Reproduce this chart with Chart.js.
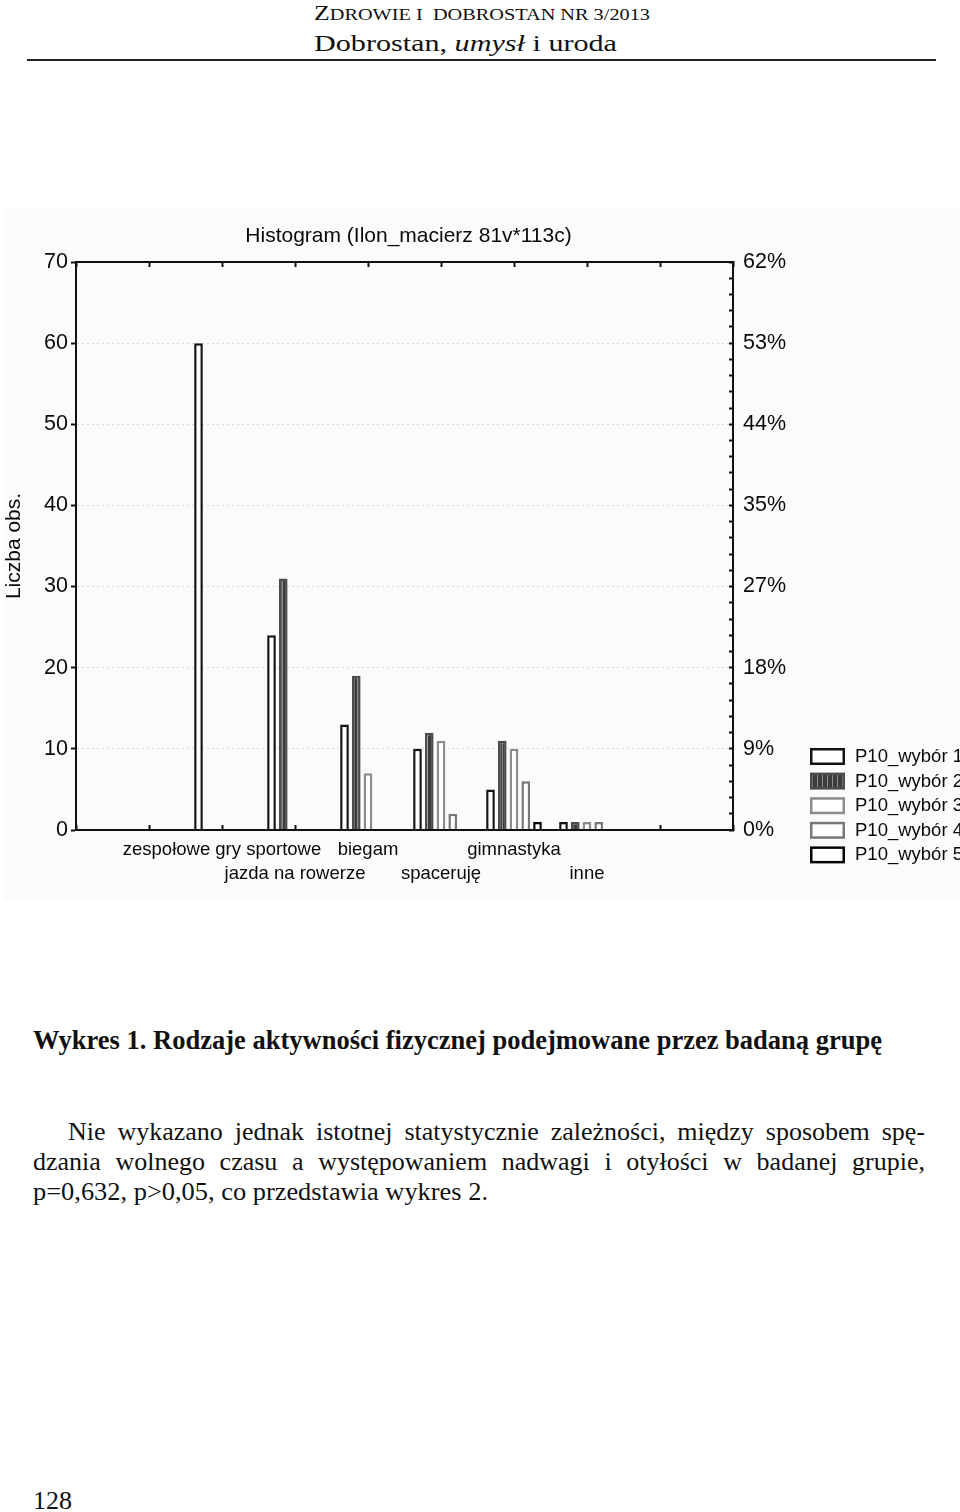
<!DOCTYPE html>
<html>
<head>
<meta charset="utf-8">
<script src="https://cdn.jsdelivr.net/npm/chart.js@4.4.1/dist/chart.umd.min.js"></script>
<style>
  body { margin: 0; width: 960px; height: 1512px; background: #fff; position: relative; overflow: hidden;
         font-family: "Liberation Serif", "Times New Roman", serif; color: #111; }
  .abs { position: absolute; white-space: nowrap; line-height: 1; transform-origin: left top; }
  .rule { position: absolute; left: 27px; top: 59px; width: 909px; height: 2px; background: #222; }
  .chart-bg { position: absolute; left: 3px; top: 208px; width: 957px; height: 692px; background: #fbfbfb; }
  #chart { position: absolute; left: 0; top: 208px; }
  .just { position: absolute; line-height: 1; font-size: 26px; text-align: justify; text-align-last: justify; }
</style>
</head>
<body>
<div class="abs" style="left:314px; top:3px; font-size:21px;" data-w="336"><span>Z</span><span style="font-size:16.5px">DROWIE I&nbsp;&nbsp;DOBROSTAN NR 3/2013</span></div>
<div class="abs" style="left:314px; top:31px; font-size:24px;" data-w="303">Dobrostan, <i>umysł</i> i uroda</div>
<div class="rule"></div>

<div class="chart-bg"></div>
<canvas id="chart" width="960" height="692"></canvas>

<div class="abs" style="left:33px; top:1027px; font-size:27px; font-weight:bold;" data-w="849">Wykres 1. Rodzaje aktywności fizycznej podejmowane przez badaną grupę</div>

<div class="just" style="left:68px; top:1119px; width:857px;">Nie wykazano jednak istotnej statystycznie zależności, między sposobem spę-</div>
<div class="just" style="left:33px; top:1149px; width:892px;">dzania wolnego czasu a występowaniem nadwagi i otyłości w badanej grupie,</div>
<div class="abs" style="left:33px; top:1179px; font-size:26px;" data-w="455">p=0,632, p&gt;0,05, co przedstawia wykres 2.</div>

<div class="abs" style="left:33px; top:1488px; font-size:26px;">128</div>

<script>
const categories = ['zespołowe gry sportowe', 'jazda na rowerze', 'biegam', 'spaceruję', 'gimnastyka', 'inne'];
const seriesNames = ['P10_wybór 1', 'P10_wybór 2', 'P10_wybór 3', 'P10_wybór 4', 'P10_wybór 5'];
const wybor1 = [60, 24, 13, 10, 5, 1];
const wybor2 = [0, 31, 19, 12, 11, 1];
const wybor3 = [0, 0, 7, 11, 10, 1];
const wybor4 = [0, 0, 0, 2, 6, 1];
const wybor5 = [0, 0, 0, 0, 1, 0];
const rightTickLabels = ['0%', '9%', '18%', '27%', '35%', '44%', '53%', '62%'];

// fit condensed serif lines to their widths in the scan
document.querySelectorAll('[data-w]').forEach((el) => {
  const w = el.getBoundingClientRect().width;
  el.style.transform = `scaleX(${el.dataset.w / w})`;
});

const SANS = '"Liberation Sans", Arial, sans-serif';
Chart.defaults.font.family = SANS;
Chart.defaults.color = '#0a0a0a';

// two empty slots each side of the groups, as in the Statistica plot
const labels = ['', '', ...categories, '', ''];
const pad = (arr) => [null, null, ...arr, null, null];

const canvas = document.getElementById('chart');
const ctx = canvas.getContext('2d');

const stripeCanvas = document.createElement('canvas');
stripeCanvas.width = 5;
stripeCanvas.height = 4;
const sctx = stripeCanvas.getContext('2d');
sctx.fillStyle = '#3c3c3c';
sctx.fillRect(0, 0, 5, 4);
sctx.fillStyle = '#8e8e8e';
sctx.fillRect(2, 0, 1, 4);
const stripes = ctx.createPattern(stripeCanvas, 'repeat');

const styles = [
  { bg: '#ffffff', border: '#141414' },
  { bg: stripes, border: '#4c4c4c' },
  { bg: '#ffffff', border: '#8c8c8c' },
  { bg: '#ffffff', border: '#787878' },
  { bg: '#ffffff', border: '#050505' },
];

const series = [wybor1, wybor2, wybor3, wybor4, wybor5];

const titlePlugin = {
  id: 'plotTitle',
  afterDraw(chart) {
    const { ctx: c, chartArea } = chart;
    c.save();
    c.font = `21px ${SANS}`;
    c.fillStyle = '#0a0a0a';
    c.textAlign = 'center';
    c.textBaseline = 'middle';
    c.fillText('Histogram (Ilon_macierz 81v*113c)', (chartArea.left + chartArea.right) / 2 + 4, 28);
    c.restore();
  },
};

const sideLegend = {
  id: 'sideLegend',
  afterDraw(chart) {
    const c = chart.ctx;
    chart.data.datasets.forEach((ds, i) => {
      const y = 540 + i * 24.6;
      c.save();
      c.fillStyle = ds.backgroundColor;
      c.fillRect(811, y + 1, 33, 15);
      c.lineWidth = 2.5;
      c.strokeStyle = ds.borderColor;
      c.strokeRect(811.25, y + 1.25, 32.5, 14.5);
      c.fillStyle = '#0a0a0a';
      c.font = `18.5px ${SANS}`;
      c.textBaseline = 'middle';
      c.fillText(ds.label, 855, y + 9);
      c.restore();
    });
  },
};

new Chart(canvas, {
  type: 'bar',
  data: {
    labels,
    datasets: series.map((data, i) => ({
      label: seriesNames[i],
      data: pad(data),
      backgroundColor: styles[i].bg,
      borderColor: styles[i].border,
      borderWidth: 2.5,
      borderSkipped: 'bottom',
      categoryPercentage: 0.805,
      barPercentage: 0.74,
    })),
  },
  plugins: [titlePlugin, sideLegend],
  options: {
    responsive: false,
    animation: false,
    layout: { padding: { top: 54, left: 0, right: 0, bottom: 0 } },
    scales: {
      x: {
        type: 'category',
        offset: false,
        grid: { offset: false, drawOnChartArea: false, drawTicks: true, tickLength: -5, tickColor: '#111', tickWidth: 2 },
        border: { color: '#111', width: 2, z: 1 },
        ticks: {
          autoSkip: false,
          maxRotation: 0,
          minRotation: 0,
          padding: 13,
          font: { size: 18.5, lineHeight: '24px' },
          color: '#0a0a0a',
          callback(value) {
            const label = this.getLabelForValue(value);
            if (!label) return '';
            return categories.indexOf(label) % 2 === 0 ? label : ['', label];
          },
        },
        afterFit: (scale) => { scale.height = 70; },
      },
      x2: {
        type: 'category',
        position: 'top',
        offset: false,
        grid: { offset: false, drawOnChartArea: false, drawTicks: true, tickLength: -5, tickColor: '#111', tickWidth: 2 },
        border: { color: '#111', width: 2, z: 1 },
        ticks: { display: false },
        afterFit: (scale) => { scale.height = 0; },
      },
      y: {
        position: 'left',
        min: 0,
        max: 70,
        ticks: { stepSize: 10, padding: 3, font: { size: 21.5 }, color: '#0a0a0a' },
        grid: { color: 'rgba(0, 0, 0, 0.13)', tickLength: 5, tickColor: '#111', tickWidth: 2, tickBorderDash: [] },
        border: { color: '#111', width: 2, dash: [2, 3] },
        title: { display: true, text: 'Liczba obs.', font: { size: 21 }, color: '#0a0a0a', padding: { top: 2 } },
        afterFit: (scale) => { scale.width = 76; },
      },
      y2: {
        position: 'right',
        min: 0,
        max: 70,
        ticks: {
          stepSize: 2,
          autoSkip: false,
          padding: 14,
          font: { size: 21.5 },
          color: '#0a0a0a',
          callback: (value) => (value % 10 === 0 ? rightTickLabels[value / 10] : ''),
        },
        grid: { drawOnChartArea: false, tickLength: -4, tickColor: '#111', tickWidth: 2 },
        border: { color: '#111', width: 2 },
        afterFit: (scale) => { scale.width = 227; },
      },
    },
    plugins: {
      legend: { display: false },
      tooltip: { enabled: true },
    },
  },
});
</script>
</body>
</html>
